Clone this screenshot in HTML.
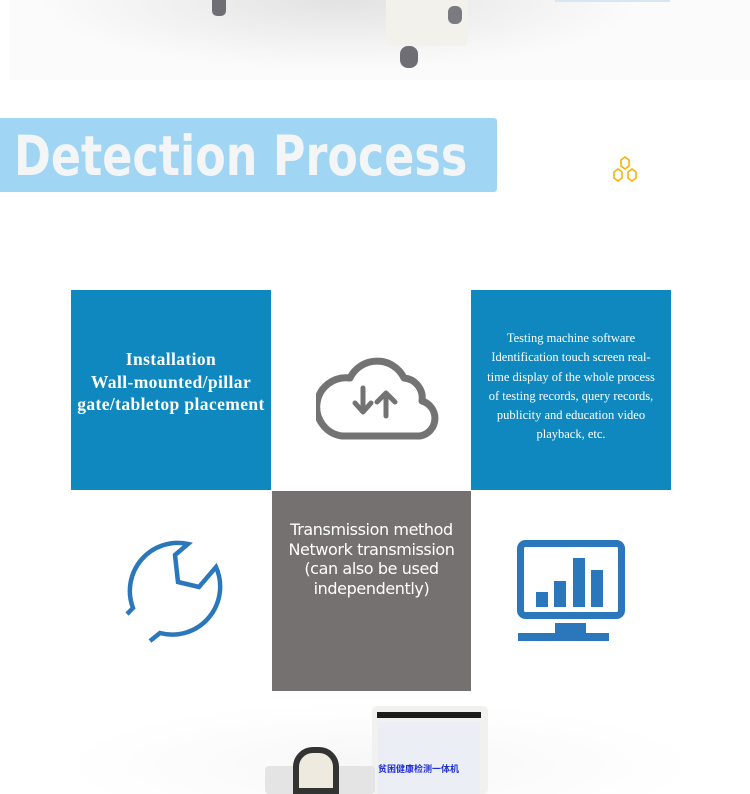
<!DOCTYPE html>
<html><head><meta charset="utf-8"><style>
body{margin:0;width:750px;height:794px;background:#fff;position:relative;overflow:hidden;font-family:"Liberation Sans",sans-serif}
.a{position:absolute}
</style></head><body>
<div class="a" style="left:10px;top:0;width:740px;height:80px;background:radial-gradient(ellipse 300px 70px at 330px 0px,#e2e2e2,#f4f4f4 70%,#fbfbfb)"></div>
<div class="a" style="left:386px;top:0;width:82px;height:46px;background:#f2f1ec;border-radius:0 0 6px 6px"></div>
<div class="a" style="left:212px;top:0;width:14px;height:16px;background:#6e6e74;border-radius:0 0 5px 5px"></div>
<div class="a" style="left:400px;top:46px;width:18px;height:22px;background:#6e6e74;border-radius:8px"></div>
<div class="a" style="left:448px;top:6px;width:14px;height:18px;background:#7a7a80;border-radius:6px"></div>
<div class="a" style="left:555px;top:0;width:115px;height:2px;background:#d8e6f2"></div>

<div class="a" style="left:0;top:118px;width:497px;height:74px;background:#a0d6f4;border-radius:0 3px 3px 0"></div>
<div class="a" style="left:14px;top:121px;font:bold 55px 'DejaVu Sans',sans-serif;color:#f4f5f7;line-height:70px;transform:scaleX(0.808);transform-origin:0 0;white-space:nowrap">Detection Process</div>
<svg class="a" style="left:610px;top:155px" width="30" height="30" viewBox="0 0 30 30" fill="none" stroke="#f6b400" stroke-width="1.6">
<polygon points="15,2 19,5 19,11 15,14 11,11 11,5"/><polygon points="8,14 12,17 12,23 8,26 4,23 4,17"/><polygon points="22,14 26,17 26,23 22,26 18,23 18,17"/></svg>

<div class="a" style="left:71px;top:290px;width:200px;height:200px;background:#0e88be"></div>
<div class="a" style="left:66px;top:348px;width:210px;text-align:center;color:#fff;font:bold 17.5px/22.5px 'Liberation Serif',serif;letter-spacing:0.4px">Installation<br>Wall-mounted/pillar<br>gate/tabletop placement</div>
<svg class="a" style="left:316px;top:356px" width="126" height="86" viewBox="-4 0 126 86" fill="none" stroke="#737373" stroke-width="7" stroke-linecap="round" stroke-linejoin="round">
<path d="M22,80 H100 A18,18 0 0 0 102,45 A20,20 0 0 0 84,22 A30,30 0 0 0 30,22 A22,22 0 0 0 22,80 Z"/>
<path d="M43,32 V55 M35,47 L43,56 L51,47" stroke-width="5"/>
<path d="M66,60 V37 M57,46 L66,37 L75,46" stroke-width="5"/></svg>

<div class="a" style="left:471px;top:290px;width:200px;height:200px;background:#0e88be"></div>
<div class="a" style="left:483px;top:329px;width:176px;text-align:center;color:#fff;font:12.5px/19.3px 'Liberation Serif',serif">Testing machine software Identification touch screen real-time display of the whole process of testing records, query records, publicity and education video playback, etc.</div>

<svg class="a" style="left:120px;top:538px" width="112" height="106" viewBox="0 0 112 106" fill="none" stroke="#2a77bb" stroke-width="4.5" stroke-linejoin="miter">
<path d="M7,76 L13,70 A48,48 0 0 1 68,6 L55,17 L58,44 L79,49 L96,29 A48,48 0 0 1 40,95 L30,103"/></svg>

<div class="a" style="left:272px;top:491px;width:199px;height:200px;background:#767171"></div>
<div class="a" style="left:262px;top:520px;width:219px;text-align:center;color:#fff;font:16px/19.5px 'DejaVu Sans',sans-serif;letter-spacing:-0.4px">Transmission method<br>Network transmission<br>(can also be used<br>independently)</div>

<svg class="a" style="left:517px;top:540px" width="110" height="102" viewBox="0 0 110 102">
<rect x="3.5" y="3.5" width="101" height="72" rx="5" fill="none" stroke="#2a77bb" stroke-width="7"/>
<rect x="19" y="52" width="12" height="15" fill="#2a77bb"/><rect x="37" y="41" width="12" height="26" fill="#2a77bb"/>
<rect x="56" y="18" width="12" height="49" fill="#2a77bb"/><rect x="74" y="30" width="12" height="37" fill="#2a77bb"/>
<rect x="38" y="83" width="31" height="10" fill="#2a77bb"/><rect x="1" y="93" width="91" height="8" fill="#2a77bb"/></svg>

<div class="a" style="left:60px;top:700px;width:640px;height:94px;background:radial-gradient(ellipse at 50% 70%,#f7f7f7,#fff 70%)"></div>
<div class="a" style="left:372px;top:706px;width:116px;height:88px;background:#f1f1ef;border-radius:5px"></div>
<div class="a" style="left:377px;top:712px;width:104px;height:6px;background:#1c1c1c"></div>
<div class="a" style="left:378px;top:722px;width:102px;height:72px;background:#eceef5"></div>
<div class="a" style="left:378px;top:762px;font:bold 9px 'Noto Sans CJK SC',sans-serif;color:#2030d0">贫困健康检测一体机</div>
<div class="a" style="left:265px;top:766px;width:110px;height:28px;background:#e4e4e4;border-radius:4px"></div>
<div class="a" style="left:293px;top:747px;width:46px;height:47px;background:#efeae0;border-radius:20px 20px 0 0;border:6px solid #333;box-sizing:border-box"></div>
</body></html>
